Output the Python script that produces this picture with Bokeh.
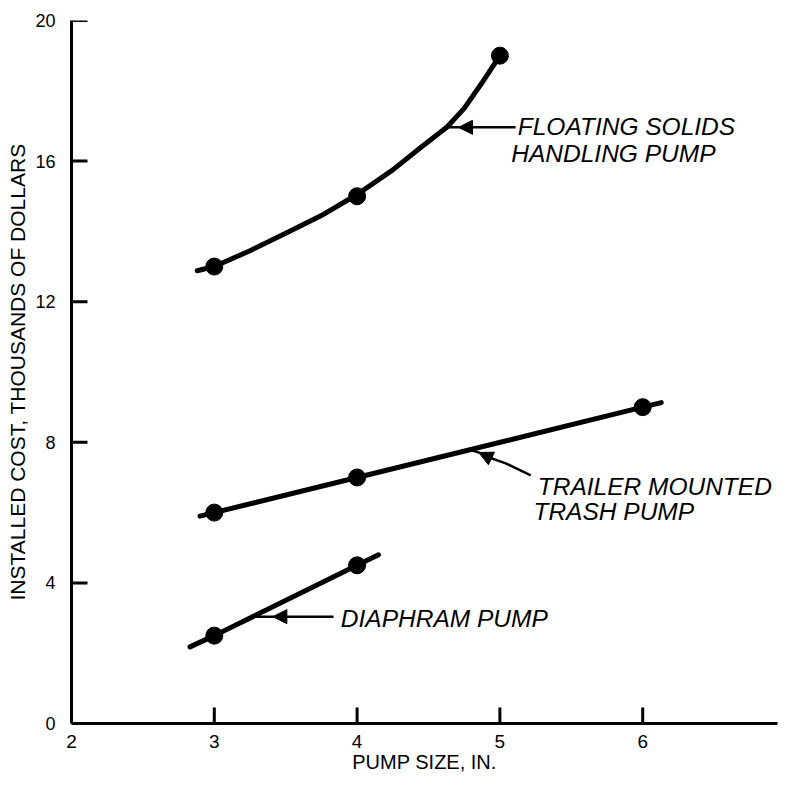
from bokeh.plotting import figure
from bokeh.models import Range1d, FixedTicker, Arrow, NormalHead, Label
from bokeh.embed import file_html
from bokeh.resources import INLINE

# ---- data ----
x_ticks = [2, 3, 4, 5, 6, 7]
y_ticks = [0, 4, 8, 12, 16, 20]

# Floating solids handling pump
floating_x = [3, 4, 5]
floating_y = [13.0, 15.0, 19.0]
floating_curve_x = [2.88, 3.0, 3.25, 3.5, 3.75, 4.0, 4.25, 4.45, 4.63, 4.75, 4.87, 5.0]
floating_curve_y = [12.88, 13.0, 13.45, 13.95, 14.45, 15.05, 15.75, 16.4, 16.97, 17.5, 18.2, 19.0]

# Trailer mounted trash pump
trailer_x = [3, 4, 6]
trailer_y = [6.0, 7.0, 9.0]
trailer_line_x = [2.9, 3, 4, 6, 6.13]
trailer_line_y = [5.9, 6.0, 7.0, 9.0, 9.13]

# Diaphram pump
diaphram_x = [3, 4]
diaphram_y = [2.5, 4.5]
diaphram_line_x = [2.83, 3, 4, 4.15]
diaphram_line_y = [2.18, 2.5, 4.5, 4.8]

FONT = "Liberation Sans"

X0, X1, Y0, Y1 = 2, 6.944, 0, 20

p = figure(width=778, height=777,
           x_range=Range1d(X0, X1), y_range=Range1d(Y0, Y1),
           output_backend="svg", toolbar_location=None,
           min_border_left=71, min_border_right=1,
           min_border_top=20, min_border_bottom=54)

p.background_fill_color = "white"
p.border_fill_color = "white"
p.outline_line_color = None
p.xgrid.grid_line_color = None
p.ygrid.grid_line_color = None

xa = p.xaxis[0]
ya = p.yaxis[0]
xa.ticker = FixedTicker(ticks=x_ticks)
ya.ticker = FixedTicker(ticks=y_ticks)
for ax in (xa, ya):
    ax.axis_line_width = 3
    ax.axis_line_color = "black"
    ax.major_tick_in = 0
    ax.major_tick_out = 0
    ax.major_tick_line_color = None
    ax.minor_tick_in = 0
    ax.minor_tick_out = 0
    ax.minor_tick_line_color = None
    ax.major_label_text_font = FONT
    ax.major_label_text_color = "black"
    ax.axis_label_text_font = FONT
    ax.axis_label_text_font_style = "normal"
    ax.axis_label_text_color = "black"

xa.major_label_text_font_size = "19px"
ya.major_label_text_font_size = "18px"
xa.axis_label_text_font_size = "20px"
ya.axis_label_text_font_size = "21px"
xa.major_label_standoff = 11
ya.major_label_standoff = 16
xa.axis_label_standoff = 0
ya.axis_label_standoff = 3
xa.axis_label = "PUMP SIZE, IN."
ya.axis_label = "INSTALLED COST, THOUSANDS OF DOLLARS"

# inward tick marks (16 px) at the tick positions, drawn as plain line annotations
tick_dy = 16 / 35.15
tick_dx = 16 / 142.8
for t in x_ticks:
    p.add_layout(Arrow(end=None, start=None, x_start=t, y_start=Y0, x_end=t, y_end=Y0 + tick_dy,
                       line_width=3, line_color="black"))
for t in y_ticks:
    p.add_layout(Arrow(end=None, start=None, x_start=X0, y_start=t, x_end=X0 + tick_dx, y_end=t,
                       line_width=3, line_color="black"))

# curves
p.line(floating_curve_x, floating_curve_y, line_width=5, line_color="black", line_cap="round", line_join="round")
p.line(trailer_line_x, trailer_line_y, line_width=5, line_color="black", line_cap="round")
p.line(diaphram_line_x, diaphram_line_y, line_width=5, line_color="black", line_cap="round")

# markers
p.scatter(floating_x, floating_y, size=17, color="black")
p.scatter(trailer_x, trailer_y, size=17, color="black")
p.scatter(diaphram_x, diaphram_y, size=17, color="black")

# leader lines with arrow heads
def head():
    return NormalHead(size=14, fill_color="black", line_color="black", line_width=1)

# floating
p.line([4.72, 4.635], [16.96, 16.96], line_width=2.5, line_color="black")
p.add_layout(Arrow(end=head(), x_start=5.11, y_start=16.96, x_end=4.71, y_end=16.96,
                   line_width=2.5, line_color="black"))
# trailer
p.line([5.216, 5.041, 4.93], [7.06, 7.40, 7.56], line_width=2.5, line_color="black")
p.line([4.86, 4.782], [7.70, 7.80], line_width=2.5, line_color="black")
p.add_layout(Arrow(end=head(), x_start=4.93, y_start=7.56, x_end=4.852, y_end=7.71,
                   line_width=2.5, line_color="black"))
# diaphram
p.line([3.42, 3.29], [3.04, 3.04], line_width=2.5, line_color="black")
p.add_layout(Arrow(end=head(), x_start=3.835, y_start=3.04, x_end=3.41, y_end=3.04,
                   line_width=2.5, line_color="black"))

# labels
def lab(x, y, t):
    p.add_layout(Label(x=x, y=y, text=t, text_font=FONT, text_font_style="italic",
                       text_font_size="24.5px", text_color="black",
                       text_align="left", text_baseline="alphabetic"))

lab(5.125, 16.98, "FLOATING SOLIDS")
lab(5.08, 16.22, "HANDLING PUMP")
lab(5.265, 6.74, "TRAILER MOUNTED")
lab(5.235, 6.02, "TRASH PUMP")
lab(3.886, 2.98, "DIAPHRAM PUMP")

open("out.html", "w").write(file_html(p, INLINE))
